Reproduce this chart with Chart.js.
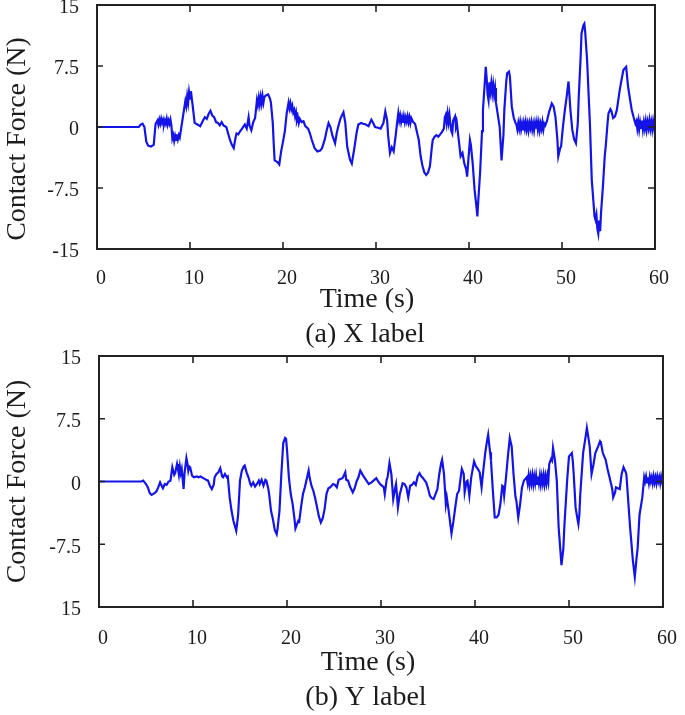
<!DOCTYPE html>
<html><head><meta charset="utf-8">
<script src="https://cdn.jsdelivr.net/npm/chart.js@4.4.0/dist/chart.umd.min.js"></script>
<style>
html,body{margin:0;padding:0;background:#fff;}
body{width:685px;height:715px;position:relative;overflow:hidden;}
canvas{position:absolute;left:0;}
#c1{top:0;} #c2{top:350px;}
</style></head><body>
<canvas id="c1" width="685" height="350"></canvas>
<canvas id="c2" width="685" height="365"></canvas>
<script>
// ---------- data ----------
const timeTicks = [0, 10, 20, 30, 40, 50, 60];
const forceTicks = [-15, -7.5, 0, 7.5, 15];
const forceLabelsA = ['-15', '-7.5', '0', '7.5', '15'];
const forceLabelsB = ['15', '-7.5', '0', '7.5', '15'];
const axisTitleX = 'Time (s)';
const axisTitleY = 'Contact Force (N)';
const captionA = '(a) X label';
const captionB = '(b) Y label';

// [time (s), contact force (N)] — (a) X label
const seriesA = [
[0,0],[4.5,0],[4.7,0.3],[4.9,0.4],[5.1,0],[5.3,-1.8],[5.5,-2.3],[5.8,-2.4],[6.1,-2.2],[6.3,0.4],
[6.5,0.8],[6.6,0.3],[6.7,0.9],[6.8,0.4],[6.9,1.0],[7.0,0.5],[7.1,0.9],[7.2,0.3],[7.3,0.8],[7.4,0.4],
[7.5,1.0],[7.6,0.3],[7.7,0.8],[7.8,0.4],[7.9,0.9],[8.0,0.2],[8.1,-1.4],[8.2,-1.0],[8.3,-1.7],[8.4,-1.1],
[8.5,-1.6],[8.6,-0.9],[8.7,-1.5],[8.8,-1.0],[8.9,-1.3],[9.1,0.2],[9.3,1.7],[9.5,3.2],[9.6,2.6],[9.7,3.8],
[9.8,3.0],[9.9,4.3],[10.0,3.5],[10.1,4.4],[10.3,2.5],[10.5,0.5],[10.8,0.3],[11.1,0.1],[11.4,0.8],[11.6,1.2],
[11.8,1.0],[12.0,1.6],[12.2,2.0],[12.4,1.4],[12.6,1.2],[12.8,0.6],[13.0,0.5],[13.2,0.2],[13.4,0.6],[13.6,0.2],
[13.9,0.0],[14.1,-0.8],[14.3,-1.6],[14.5,-2.2],[14.7,-2.6],[14.9,-1.3],[15.0,-0.8],[15.2,-0.9],[15.4,-0.5],[15.6,-0.2],
[15.9,0.3],[16.1,-0.2],[16.3,1.2],[16.4,0.2],[16.6,-0.4],[16.8,0.6],[17.0,1.1],[17.2,3.3],[17.3,2.7],[17.4,3.6],
[17.5,2.8],[17.6,3.7],[17.7,2.9],[17.8,3.8],[17.9,3.0],[18.0,3.7],[18.2,3.9],[18.4,4.0],[18.6,3.5],[18.7,3.0],
[18.9,0.5],[19.0,-2.0],[19.1,-4.1],[19.4,-4.3],[19.6,-4.6],[19.8,-3.0],[20.0,-1.8],[20.2,-0.5],[20.4,1.7],[20.6,3.0],
[20.7,2.3],[20.8,2.9],[20.9,2.2],[21.0,2.6],[21.1,1.8],[21.2,2.1],[21.3,1.3],[21.4,1.8],[21.5,0.8],[21.6,1.2],
[21.7,0.5],[21.8,1.0],[22.0,0.6],[22.2,0.7],[22.4,0.1],[22.7,-0.2],[22.9,-0.8],[23.1,-1.6],[23.4,-2.6],[23.7,-3.0],
[24.0,-2.9],[24.2,-2.6],[24.5,-1.5],[24.7,-0.4],[24.9,0.5],[25.1,0.0],[25.3,-1.0],[25.6,-2.0],[25.8,-0.6],[26.0,0.3],
[26.2,1.1],[26.5,1.8],[26.7,0.5],[26.9,-2.4],[27.2,-4.0],[27.4,-4.5],[27.7,-2.4],[27.9,-0.8],[28.1,0.3],[28.4,0.5],
[28.6,0.4],[28.9,0.3],[29.2,0.1],[29.5,0.9],[29.7,0.5],[29.9,0.0],[30.2,-0.1],[30.5,-0.2],[30.8,0.5],[31.0,1.9],
[31.2,0.8],[31.3,-1.0],[31.5,-3.2],[31.7,-2.5],[31.9,-3.0],[32.1,-1.2],[32.3,0.8],[32.4,1.7],[32.5,0.8],[32.6,1.4],
[32.7,0.6],[32.8,1.2],[32.9,0.5],[33.0,1.3],[33.1,0.6],[33.2,1.2],[33.3,0.7],[33.4,1.3],[33.5,0.6],[33.6,1.2],
[33.7,0.5],[33.8,1.1],[34.0,0.6],[34.2,0.4],[34.4,-0.6],[34.6,-1.6],[34.8,-3.6],[35.0,-4.8],[35.2,-5.6],[35.4,-5.9],
[35.6,-5.6],[35.8,-4.8],[36.0,-2.5],[36.1,-1.6],[36.3,-1.2],[36.5,-1.0],[36.7,-1.2],[36.9,-0.9],[37.1,-0.6],[37.3,-0.2],
[37.4,1.2],[37.5,1.5],[37.6,0.5],[37.7,1.6],[37.8,0.6],[37.9,1.5],[38.0,0.4],[38.1,-0.5],[38.2,-0.8],[38.3,0.8],
[38.5,1.3],[38.6,0.0],[38.7,0.4],[38.9,-1.6],[39.1,-3.6],[39.3,-3.2],[39.5,-4.5],[39.7,-5.2],[39.8,-6.1],[39.9,-4.5],
[40.1,-1.6],[40.2,-2.2],[40.4,-4.5],[40.6,-7.7],[40.8,-9.8],[40.9,-11.0],[41.0,-9.0],[41.2,-5.5],[41.4,-0.5],[41.5,2.1],
[41.7,5.5],[41.8,7.4],[41.9,6.0],[42.0,4.0],[42.1,3.3],[42.2,5.5],[42.3,4.4],[42.4,5.4],[42.5,4.2],[42.6,5.2],
[42.7,4.0],[42.8,4.8],[42.9,3.0],[43.1,1.5],[43.3,0.0],[43.5,-4.1],[43.7,-1.0],[43.8,2.1],[44.0,5.5],[44.1,6.6],
[44.3,6.8],[44.4,6.2],[44.6,2.5],[44.8,1.2],[45.0,0.5],[45.1,0.3],[45.2,-0.3],[45.3,0.5],[45.4,-0.2],[45.5,0.6],
[45.6,-0.3],[45.7,0.4],[45.8,-0.4],[45.9,0.5],[46.0,-0.2],[46.1,0.6],[46.2,-0.3],[46.3,0.4],[46.4,-0.4],[46.5,0.5],
[46.6,-0.1],[46.7,0.6],[46.8,-0.3],[46.9,0.4],[47.0,-0.4],[47.1,0.5],[47.2,-0.2],[47.3,0.6],[47.4,-0.3],[47.5,0.5],
[47.6,-0.4],[47.7,0.4],[47.8,-0.2],[47.9,0.6],[48.0,-0.3],[48.1,0.4],[48.2,0.2],[48.4,0.8],[48.6,1.8],[48.9,2.9],
[49.1,2.5],[49.3,1.2],[49.5,-1.5],[49.6,-3.6],[49.8,-2.6],[49.9,-2.4],[50.1,0.0],[50.3,2.0],[50.5,3.7],[50.7,5.6],
[50.9,2.2],[51.1,-0.3],[51.3,-1.5],[51.5,-2.0],[51.7,0.5],[51.8,3.7],[52.0,8.5],[52.1,11.5],[52.3,12.5],[52.4,12.7],
[52.5,11.6],[52.7,8.2],[52.9,3.0],[53.0,0.5],[53.2,-6.5],[53.4,-9.5],[53.5,-11.0],[53.6,-11.4],[53.7,-10.8],[53.8,-12.5],
[53.9,-13.1],[54.0,-11.5],[54.1,-12.8],[54.2,-10.5],[54.4,-7.3],[54.6,-3.5],[54.7,-2.4],[54.9,0.5],[55.0,1.7],[55.2,2.2],
[55.3,2.0],[55.5,1.1],[55.7,1.3],[55.9,2.1],[56.2,4.5],[56.4,5.8],[56.6,7.0],[56.9,7.4],[57.1,5.0],[57.3,3.5],
[57.5,2.1],[57.7,1.2],[57.9,0.4],[58.0,0.7],[58.1,-0.2],[58.2,0.7],[58.3,-0.3],[58.4,0.6],[58.5,-0.1],[58.6,0.8],
[58.7,-0.3],[58.8,0.6],[58.9,-0.2],[59.0,0.7],[59.1,-0.3],[59.2,0.6],[59.3,-0.1],[59.4,0.8],[59.5,-0.2],[59.6,0.6],
[59.7,-0.3],[59.8,0.7],[59.9,-0.1],[60.0,0.5]
];

// [time (s), contact force (N)] — (b) Y label
const seriesB = [
[0,0],[4.5,0],[4.7,0.1],[5.0,-0.3],[5.2,-0.7],[5.4,-1.4],[5.6,-1.6],[5.9,-1.4],[6.1,-1.2],[6.3,-0.7],
[6.5,-0.1],[6.7,-0.6],[6.8,-0.8],[7.0,-0.3],[7.2,-0.4],[7.4,0.0],[7.6,0.1],[7.8,1.7],[8.0,0.8],[8.1,1.0],
[8.3,2.1],[8.4,1.5],[8.5,0.8],[8.6,1.8],[8.7,1.0],[8.8,1.5],[9.0,-0.9],[9.1,1.0],[9.3,2.8],[9.4,2.2],
[9.5,1.3],[9.6,1.8],[9.7,1.7],[9.9,0.7],[10.1,0.5],[10.4,0.6],[10.6,0.5],[10.8,0.6],[11.1,0.4],[11.4,0.2],
[11.6,0.1],[11.8,-0.5],[12.0,-0.9],[12.2,-0.4],[12.3,0.5],[12.5,0.9],[12.7,1.1],[12.9,1.6],[13.1,0.6],[13.2,0.5],
[13.4,0.9],[13.6,0.5],[13.7,0.6],[13.9,-1.9],[14.1,-3.5],[14.3,-4.7],[14.5,-5.5],[14.6,-5.9],[14.8,-4.0],[15.0,0.1],
[15.2,1.3],[15.4,1.8],[15.5,1.9],[15.7,1.1],[15.9,0.5],[16.1,-0.3],[16.2,-0.5],[16.4,-0.1],[16.6,-0.6],[16.8,-0.3],
[17.0,0.1],[17.1,-0.3],[17.3,0.2],[17.5,-0.5],[17.7,0.2],[17.8,0.1],[18.0,-0.8],[18.1,-1.5],[18.3,-3.5],[18.5,-4.5],
[18.7,-5.8],[18.9,-6.3],[19.0,-5.6],[19.2,-3.5],[19.4,0.9],[19.6,4.6],[19.8,5.2],[19.9,5.1],[20.0,3.8],[20.2,0.5],
[20.4,-1.5],[20.6,-2.7],[20.8,-4.5],[20.9,-5.6],[21.1,-5.0],[21.2,-4.7],[21.3,-4.8],[21.5,-3.0],[21.7,-1.5],[21.9,-0.7],
[22.1,0.3],[22.3,1.3],[22.4,0.5],[22.6,-0.5],[22.8,-1.1],[23.0,-2.0],[23.2,-3.1],[23.4,-4.2],[23.6,-4.9],[23.8,-4.4],
[24.0,-3.3],[24.2,-1.5],[24.4,-0.8],[24.6,-0.7],[24.9,-0.3],[25.1,-0.4],[25.3,-0.7],[25.5,0.2],[25.7,0.3],[25.9,0.4],
[26.0,0.6],[26.2,1.1],[26.3,0.2],[26.5,0.1],[26.7,-0.6],[27.0,-1.3],[27.2,-0.8],[27.4,0.0],[27.6,0.5],[27.8,1.3],
[28.1,0.7],[28.4,0.2],[28.7,-0.3],[29.0,-0.1],[29.2,0.1],[29.5,0.4],[29.7,0.0],[29.9,-0.3],[30.1,-0.5],[30.3,-0.7],
[30.4,-1.5],[30.6,0.2],[30.7,0.5],[30.9,2.2],[31.1,0.9],[31.3,-2.1],[31.5,-0.8],[31.6,-0.3],[31.8,-3.1],[32.0,-1.5],
[32.1,-1.1],[32.3,-0.2],[32.5,-0.3],[32.7,-0.7],[32.9,-1.9],[33.1,-0.5],[33.3,-0.4],[33.5,-0.1],[33.7,-0.4],[33.9,0.6],
[34.1,1.0],[34.3,0.6],[34.4,0.5],[34.6,0.2],[34.8,-0.1],[35.0,-0.8],[35.2,-1.7],[35.4,-2.0],[35.6,-2.1],[35.8,-1.5],
[36.0,-0.9],[36.2,0.9],[36.4,2.2],[36.5,2.6],[36.7,0.9],[36.9,-2.7],[37.0,-1.9],[37.2,-3.5],[37.3,-4.4],[37.5,-6.2],
[37.7,-4.8],[37.9,-3.1],[38.1,-1.5],[38.3,-1.1],[38.5,0.7],[38.6,1.5],[38.8,0.9],[38.9,-1.3],[39.1,0.0],[39.2,0.1],
[39.4,-1.7],[39.6,0.5],[39.9,2.4],[40.1,1.8],[40.3,1.5],[40.5,1.1],[40.7,-0.7],[40.9,1.5],[41.1,3.5],[41.3,5.0],
[41.4,5.6],[41.6,3.5],[41.7,2.5],[41.9,-1.1],[42.1,-4.3],[42.3,-4.3],[42.5,-4.0],[42.7,-2.7],[42.9,-0.5],[43.0,-0.6],
[43.1,-1.7],[43.3,0.5],[43.5,3.0],[43.7,5.2],[43.9,4.2],[44.1,0.9],[44.3,-1.8],[44.4,-2.3],[44.6,-4.3],[44.8,-2.7],
[45.0,-0.7],[45.2,0.1],[45.5,0.5],[45.6,-0.2],[45.7,0.7],[45.8,-0.3],[45.9,0.6],[46.0,-0.2],[46.1,0.7],[46.2,-0.3],
[46.3,0.6],[46.4,-0.2],[46.5,0.7],[46.6,-0.3],[46.7,0.6],[46.8,-0.2],[46.9,0.7],[47.0,-0.3],[47.1,0.6],[47.2,-0.2],
[47.3,0.7],[47.4,-0.3],[47.5,0.6],[47.6,-0.2],[47.7,0.7],[47.8,0.0],[47.9,2.1],[48.1,2.7],[48.2,2.5],[48.3,4.0],
[48.5,2.6],[48.7,0.1],[48.9,-5.5],[49.1,-8.5],[49.2,-10.0],[49.4,-8.0],[49.5,-5.5],[49.8,0.1],[50.0,3.0],[50.3,3.4],
[50.4,2.5],[50.5,0.9],[50.7,-3.1],[50.9,-4.5],[51.0,-5.1],[51.1,-4.0],[51.2,-1.5],[51.5,3.4],[51.8,5.6],[51.9,6.4],
[52.0,5.7],[52.2,4.2],[52.4,0.9],[52.6,2.0],[52.8,3.4],[53.1,4.2],[53.3,4.8],[53.4,4.6],[53.6,3.4],[53.9,2.6],
[54.1,1.5],[54.4,0.1],[54.6,-0.9],[54.7,-1.9],[54.9,-1.3],[55.0,-0.7],[55.2,-0.8],[55.4,-0.9],[55.6,0.9],[55.8,1.7],
[56.0,1.2],[56.1,0.9],[56.3,-2.3],[56.5,-5.5],[56.6,-6.8],[56.8,-9.5],[57.0,-11.4],[57.2,-9.0],[57.3,-8.0],[57.5,-4.0],
[57.8,-1.9],[58.0,0.5],[58.1,0.0],[58.2,0.6],[58.3,-0.1],[58.4,0.5],[58.5,-0.2],[58.6,0.6],[58.7,0.0],[58.8,0.5],
[58.9,-0.2],[59.0,0.6],[59.1,-0.1],[59.2,0.5],[59.3,-0.2],[59.4,0.6],[59.5,0.0],[59.6,0.5],[59.7,-0.2],[59.8,0.6],
[59.9,0.0],[60.0,0.4]
];

// ---------- drawing ----------
const FONT = '"Liberation Serif", "Times New Roman", serif';
const INK = '#1c1c1c';
const LINE = '#1414e6';

function decorPlugin(cfg) {
  return {
    id: 'decor',
    afterDatasetsDraw(chart) {
      const {ctx, chartArea: a, scales: {x, y}} = chart;
      ctx.save();
      ctx.strokeStyle = '#222';
      ctx.lineWidth = 1.6;
      ctx.beginPath();
      x.ticks.forEach(t => {
        const px = x.getPixelForValue(t.value);
        if (px <= a.left + 1 || px >= a.right - 1) return;
        ctx.moveTo(px, a.bottom); ctx.lineTo(px, a.bottom - 7);
        ctx.moveTo(px, a.top); ctx.lineTo(px, a.top + 7);
      });
      y.ticks.forEach(t => {
        const py = y.getPixelForValue(t.value);
        if (py <= a.top + 1 || py >= a.bottom - 1) return;
        ctx.moveTo(a.right, py); ctx.lineTo(a.right - 7, py);
        ctx.moveTo(a.left, py); ctx.lineTo(a.left + 6, py);
      });
      ctx.stroke();
      ctx.lineWidth = 2;
      ctx.strokeRect(a.left, a.top, a.right - a.left, a.bottom - a.top);
      ctx.fillStyle = INK;
      ctx.font = '28px ' + FONT;
      ctx.textAlign = 'center';
      ctx.textBaseline = 'alphabetic';
      ctx.fillText(axisTitleX, cfg.xTitleX, cfg.xTitleBase);
      ctx.fillText(cfg.caption, cfg.capX, cfg.capBase);
      ctx.translate(cfg.yTitleBase, cfg.yTitleY);
      ctx.rotate(-Math.PI / 2);
      ctx.fillText(axisTitleY, 0, 0);
      ctx.restore();
    }
  };
}

function makeChart(id, series, labels, g) {
  return new Chart(document.getElementById(id), {
    type: 'line',
    data: {
      datasets: [{
        data: series.map(p => ({x: p[0], y: p[1]})),
        borderColor: LINE, borderWidth: 2.2, pointRadius: 0, tension: 0, fill: false
      }]
    },
    options: {
      responsive: false, animation: false,
      layout: {padding: {left: 0, top: g.top, right: g.right, bottom: 0}},
      plugins: {legend: {display: false}, tooltip: {enabled: false}},
      scales: {
        x: {
          type: 'linear', min: 0, max: 60,
          afterBuildTicks: s => { s.ticks = timeTicks.map(v => ({value: v})); },
          afterFit: s => { s.height = g.xH; s.paddingLeft = 0; s.paddingRight = 0; s.paddingTop = 0; s.paddingBottom = 0; },
          grid: {display: false, drawTicks: false}, border: {display: false},
          ticks: {padding: g.xPad, labelOffset: 4, maxRotation: 0, autoSkip: false,
                  color: INK, font: {family: FONT, size: 20}}
        },
        y: {
          type: 'linear', min: -15, max: 15,
          afterBuildTicks: s => { s.ticks = forceTicks.map(v => ({value: v})); },
          afterFit: s => { s.width = g.yW; s.paddingTop = 0; s.paddingBottom = 0; s.paddingLeft = 0; s.paddingRight = 0; },
          grid: {display: false, drawTicks: false}, border: {display: false},
          ticks: {padding: 18, labelOffset: g.yOff, autoSkip: false, color: INK,
                  font: {family: FONT, size: 20},
                  callback: v => labels[forceTicks.indexOf(v)]}
        }
      }
    },
    plugins: [decorPlugin(g)]
  });
}

makeChart('c1', seriesA, forceLabelsA, {
  top: 5, right: 30, xH: 101, xPad: 18, yW: 97, yOff: 3,
  xTitleX: 367, xTitleBase: 307, caption: captionA, capX: 365, capBase: 342,
  yTitleBase: 25, yTitleY: 139
});
makeChart('c2', seriesB, forceLabelsB, {
  top: 6, right: 22, xH: 108, xPad: 20, yW: 99, yOff: 3,
  xTitleX: 368, xTitleBase: 320, caption: captionB, capX: 366, capBase: 355,
  yTitleBase: 25, yTitleY: 131.5
});
</script>
</body></html>
